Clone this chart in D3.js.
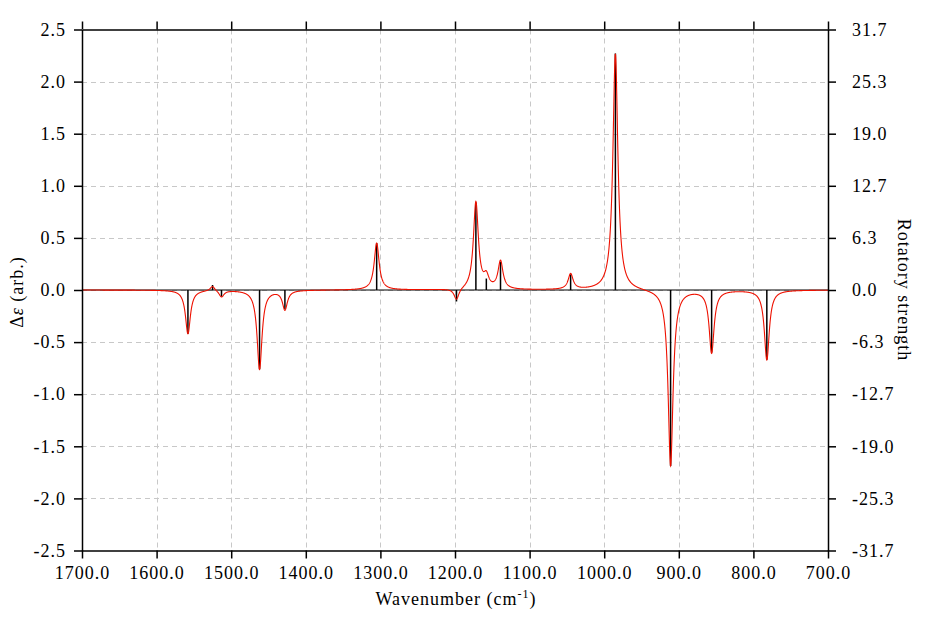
<!DOCTYPE html>
<html>
<head>
<meta charset="utf-8">
<script src="https://cdn.jsdelivr.net/npm/d3@7"></script>
<style>
  html, body { margin: 0; padding: 0; background: #fff; }
  #chart, #chart text { font-family: "Liberation Serif", "Times New Roman", Times, serif !important; fill: #000; }
</style>
</head>
<body>
<svg id="chart" width="927" height="617"></svg>
<script>
// ---- data ----
const stickWavenumbers = [1558, 1525, 1513, 1462, 1428, 1305, 1198, 1172, 1158, 1139, 1045, 985, 911, 856, 782];
const stickHeights     = [-0.42, 0.048, -0.064, -0.76, -0.185, 0.45, -0.11, 0.84, 0.11, 0.27, 0.15, 2.27, -1.69, -0.60, -0.67];
const halfWidth = 4; // Lorentzian half width (cm-1) of the broadened spectrum
const xTicks = [1700, 1600, 1500, 1400, 1300, 1200, 1100, 1000, 900, 800, 700];
const yTicks = [2.5, 2.0, 1.5, 1.0, 0.5, 0.0, -0.5, -1.0, -1.5, -2.0, -2.5];
const rightTicks = [31.66, 25.328, 18.996, 12.664, 6.332, 0, -6.332, -12.664, -18.996, -25.328, -31.66];

// ---- layout ----
const L = 82, R = 828, T = 29.5, B = 550.5;
const svg = d3.select("#chart");

const x = d3.scaleLinear().domain([1700, 700]).range([L, R]);
const y = d3.scaleLinear().domain([-2.5, 2.5]).range([B, T]);
const yR = d3.scaleLinear().domain([-31.66, 31.66]).range([B, T]);

// grid
const grid = svg.append("g").attr("stroke", "#c8c8c8").attr("stroke-width", 1).attr("stroke-dasharray", "5,4");
grid.selectAll("line.v").data(xTicks.slice(1, -1)).join("line")
  .attr("x1", d => Math.round(x(d)) + 0.5).attr("x2", d => Math.round(x(d)) + 0.5)
  .attr("y1", T).attr("y2", B);
grid.selectAll("line.h").data(yTicks.slice(1, -1)).join("line")
  .attr("y1", d => Math.round(y(d)) + 0.5).attr("y2", d => Math.round(y(d)) + 0.5)
  .attr("x1", L).attr("x2", R);

// broadened curve computed from the sticks
const curve = [];
for (let w = 1700; w >= 700; w -= 0.25) {
  let s = 0;
  stickWavenumbers.forEach((c, i) => {
    const dx = w - c;
    s += stickHeights[i] * halfWidth * halfWidth / (dx * dx + halfWidth * halfWidth);
  });
  curve.push([w, s]);
}

// zero line
svg.append("line").attr("x1", L).attr("x2", R)
  .attr("y1", y(0)).attr("y2", y(0)).attr("stroke", "#000").attr("stroke-width", 1.2);

// sticks
svg.append("g").selectAll("line").data(stickWavenumbers).join("line")
  .attr("x1", d => x(d)).attr("x2", d => x(d))
  .attr("y1", y(0)).attr("y2", (d, i) => y(stickHeights[i]))
  .attr("stroke", "#000").attr("stroke-width", 1.5);

// curve
svg.append("path").datum(curve)
  .attr("d", d3.line().x(d => x(d[0])).y(d => y(d[1])))
  .attr("fill", "none").attr("stroke", "#ee1100").attr("stroke-width", 1.1);

// axes
const fmt = d => d.toFixed(1);
function styleAxis(g) {
  g.attr("font-family", null).attr("font-size", null);
  g.selectAll("path.domain").attr("stroke", "#000").attr("stroke-width", 1.5);
  g.selectAll(".tick line").attr("stroke", "#000").attr("stroke-width", 1.5);
  g.selectAll("text").attr("font-size", 18).attr("letter-spacing", 1).attr("fill", "#000");
}
svg.append("g").attr("transform", `translate(0,${B})`)
  .call(d3.axisBottom(x).tickValues(xTicks).tickFormat(fmt).tickSize(8).tickSizeOuter(0).tickPadding(8))
  .call(styleAxis);
svg.append("g").attr("transform", `translate(0,${T})`)
  .call(d3.axisTop(x).tickValues(xTicks).tickFormat("").tickSize(8).tickSizeOuter(0))
  .call(styleAxis);
svg.append("g").attr("transform", `translate(${L},0)`)
  .call(d3.axisLeft(y).tickValues(yTicks).tickFormat(fmt).tickSize(8).tickSizeOuter(0).tickPadding(8))
  .call(styleAxis);
svg.append("g").attr("transform", `translate(${R},0)`)
  .call(d3.axisRight(yR).tickValues(rightTicks).tickFormat(fmt).tickSize(8).tickSizeOuter(0).tickPadding(16))
  .call(styleAxis);

// titles
const xt = svg.append("text").attr("x", 456).attr("y", 605).attr("text-anchor", "middle")
  .attr("font-size", 18).attr("letter-spacing", 1);
xt.append("tspan").text("Wavenumber (cm");
xt.append("tspan").attr("font-size", 12).attr("dy", -7).text("-1");
xt.append("tspan").attr("dy", 7).text(")");

const yl = svg.append("text").attr("transform", "translate(23,292) rotate(-90)")
  .attr("text-anchor", "middle").attr("font-size", 18).attr("letter-spacing", 1);
yl.append("tspan").text("Δ");
yl.append("tspan").attr("font-style", "italic").text("ε");
yl.append("tspan").text(" (arb.)");

svg.append("text").attr("transform", "translate(898,290) rotate(90)")
  .attr("text-anchor", "middle").attr("font-size", 18).attr("letter-spacing", 1)
  .text("Rotatory strength");
</script>
</body>
</html>
